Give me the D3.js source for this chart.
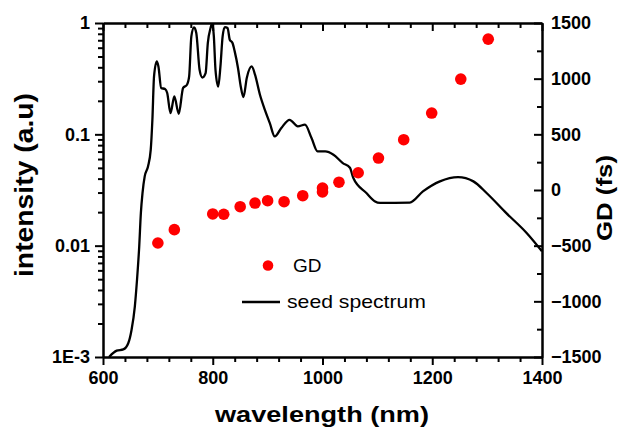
<!DOCTYPE html>
<html>
<head>
<meta charset="utf-8">
<script src="https://cdn.jsdelivr.net/npm/d3@7"></script>
<style>
  html, body { margin: 0; padding: 0; background: #fff; }
  svg { display: block; }
  text { font-family: "Liberation Sans", Arial, Helvetica, sans-serif; }
</style>
</head>
<body>
<svg id="chart" width="622" height="428"></svg>
<script>
// ---- data ----
const spectrumWavelength = [611,625,637,646,652,658,662,666,669,672,676,682,687,690,693,698,701,706,713,717,723,730,738,746,753,757,761,766,770,776,781,787,791,796,799,802,805,810,814,818,822,827,831,836,840,846,851,856,862,871,877,886,895,904,913,925,940,955,968,980,991,1005,1020,1037,1050,1056,1080,1095,1105,1159,1183,1214,1247,1275,1299,1335,1372,1400];
const spectrumIntensity = [0.0010,0.00114,0.00117,0.00133,0.00175,0.00284,0.00494,0.00984,0.0196,0.0297,0.0419,0.0515,0.0728,0.135,0.331,0.452,0.407,0.261,0.255,0.235,0.155,0.219,0.153,0.261,0.279,0.331,0.759,0.912,0.813,0.380,0.324,0.355,0.661,0.902,1.0,0.759,0.380,0.269,0.407,0.759,0.920,0.902,0.708,0.661,0.556,0.394,0.269,0.216,0.321,0.407,0.344,0.227,0.166,0.126,0.0957,0.114,0.135,0.118,0.122,0.0927,0.0702,0.0702,0.0656,0.0552,0.0501,0.0407,0.0297,0.0251,0.0242,0.0244,0.0307,0.0378,0.0413,0.0378,0.0297,0.0196,0.0130,0.0089];

const gdWavelength = [700,730,800,820,850,877,900,930,964,1000,1000,1030,1065,1102,1148,1199,1252,1302];
const gdValues = [-476,-356,-215,-218,-150,-117,-96,-105,-51,18,-18,70,155,287,452,691,996,1355];

const xTicks = [600,800,1000,1200,1400];
const leftTicks = [1,0.1,0.01,0.001];
const leftTickLabels = ["1","0.1","0.01","1E-3"];
const rightTicks = [1500,1000,500,0,-500,-1000,-1500];

const xTitle = "wavelength (nm)";
const leftTitle = "intensity (a.u)";
const rightTitle = "GD (fs)";
const legendLabels = ["GD","seed spectrum"];

// ---- layout ----
const W = 622, H = 428;
const m = {left: 103, right: 80, top: 23, bottom: 71};
const svg = d3.select("#chart");

const x = d3.scaleLinear().domain([600,1400]).range([m.left, W - m.right]);
const yL = d3.scaleLog().domain([0.001,1]).range([H - m.bottom, m.top]);
const yR = d3.scaleLinear().domain([-1500,1500]).range([H - m.bottom, m.top]);

svg.append("defs").append("clipPath").attr("id","clip")
  .append("rect").attr("x", m.left).attr("y", m.top)
  .attr("width", W - m.left - m.right).attr("height", H - m.top - m.bottom);

// spectrum line
const line = d3.line()
  .x((d,i) => x(spectrumWavelength[i]))
  .y(d => yL(d))
  .curve(d3.curveMonotoneX);
svg.append("path")
  .attr("clip-path","url(#clip)")
  .attr("d", line(spectrumIntensity))
  .attr("fill","none").attr("stroke","#000").attr("stroke-width",2.3)
  .attr("stroke-linejoin","round");

// GD points
svg.append("g").selectAll("circle").data(gdValues).join("circle")
  .attr("cx",(d,i) => x(gdWavelength[i]))
  .attr("cy", d => yR(d))
  .attr("r", 5.8)
  .attr("fill","#ff0000");

// ---- axes ----
function styleAxis(g, fs) {
  g.selectAll(".domain").attr("stroke","#000").attr("stroke-width",2);
  g.selectAll(".tick line").attr("stroke","#000").attr("stroke-width",2);
  g.selectAll(".tick text").attr("fill","#000")
    .style("font-family",'"Liberation Sans", Arial, sans-serif')
    .style("font-weight","bold").style("font-size", fs + "px");
  g.attr("font-family", null).attr("font-size", null);
}
const xMinor = d3.range(600, 1401, 40).filter(v => !xTicks.includes(v));
const leftMinor = [];
[0.001,0.01,0.1].forEach(dec => { for (let k=2;k<=9;k++) leftMinor.push(dec*k); });
const rightMinor = d3.range(-1250, 1500, 500);

// bottom
const gb = svg.append("g").attr("transform",`translate(0,${H-m.bottom})`);
gb.append("g").call(d3.axisBottom(x).tickValues(xMinor).tickSize(5).tickSizeOuter(0).tickFormat(""))
  .call(g => styleAxis(g,18));
gb.append("g").call(d3.axisBottom(x).tickValues(xTicks).tickSize(8).tickSizeOuter(0).tickPadding(6).tickFormat(d3.format("d")))
  .call(g => styleAxis(g,18));
// top
const gt = svg.append("g").attr("transform",`translate(0,${m.top})`);
gt.append("g").call(d3.axisTop(x).tickValues(xMinor).tickSize(-5).tickSizeOuter(0).tickFormat(""))
  .call(g => styleAxis(g,18));
gt.append("g").call(d3.axisTop(x).tickValues(xTicks).tickSize(-8).tickSizeOuter(0).tickFormat(""))
  .call(g => styleAxis(g,18));
// left
const gl = svg.append("g").attr("transform",`translate(${m.left},0)`);
gl.append("g").call(d3.axisLeft(yL).tickValues(leftMinor).tickSize(5).tickSizeOuter(0).tickFormat(""))
  .call(g => styleAxis(g,18));
gl.append("g").call(d3.axisLeft(yL).tickValues(leftTicks).tickSize(8).tickSizeOuter(0).tickPadding(5)
    .tickFormat((d,i) => leftTickLabels[i]))
  .call(g => styleAxis(g,18));
// right
const gr = svg.append("g").attr("transform",`translate(${W-m.right},0)`);
gr.append("g").call(d3.axisRight(yR).tickValues(rightMinor).tickSize(-5).tickSizeOuter(0).tickFormat(""))
  .call(g => styleAxis(g,18));
gr.append("g").call(d3.axisRight(yR).tickValues(rightTicks).tickSize(-8).tickSizeOuter(0).tickPadding(9).tickFormat(d3.format("d")))
  .call(g => styleAxis(g,18));

// ---- titles ----
svg.append("text").attr("x", 322).attr("y", 422)
  .attr("text-anchor","middle").attr("font-weight","bold").attr("font-size",22)
  .attr("textLength",214).attr("lengthAdjust","spacingAndGlyphs")
  .text(xTitle);
svg.append("text").attr("transform","translate(33,185) rotate(-90)")
  .attr("text-anchor","middle").attr("font-weight","bold").attr("font-size",25)
  .attr("textLength",184).attr("lengthAdjust","spacingAndGlyphs")
  .text(leftTitle);
svg.append("text").attr("transform","translate(612,198) rotate(-90)")
  .attr("text-anchor","middle").attr("font-weight","bold").attr("font-size",22)
  .attr("textLength",86).attr("lengthAdjust","spacingAndGlyphs")
  .text(rightTitle);

// ---- legend ----
const lg = svg.append("g");
lg.append("circle").attr("cx",268).attr("cy",265.5).attr("r",5.3).attr("fill","#ff0000");
lg.append("text").attr("x",293).attr("y",271.5).attr("font-size",19).text(legendLabels[0]);
lg.append("line").attr("x1",242).attr("x2",280).attr("y1",302).attr("y2",302)
  .attr("stroke","#000").attr("stroke-width",2.3);
lg.append("text").attr("x",287).attr("y",307.5).attr("font-size",19)
  .attr("textLength",139).attr("lengthAdjust","spacingAndGlyphs").text(legendLabels[1]);
</script>
</body>
</html>
